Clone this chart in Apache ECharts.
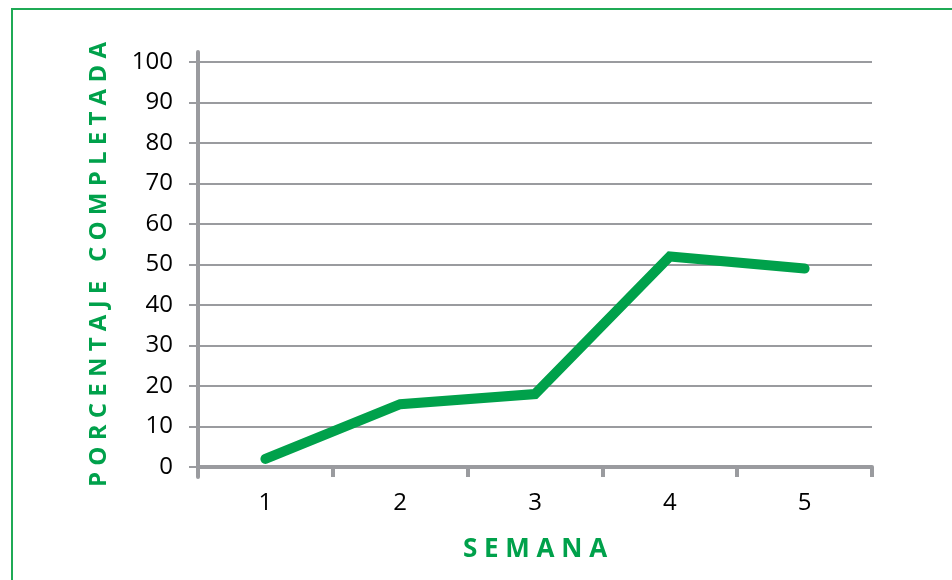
<!DOCTYPE html>
<html>
<head>
<meta charset="utf-8">
<script src="https://cdn.jsdelivr.net/npm/echarts@6/dist/echarts.min.js"></script>
<style>
  html, body { margin: 0; padding: 0; background: #fff; }
  #wrap { position: relative; width: 952px; height: 580px; overflow: hidden; }
  #frame {
    position: absolute; left: 11px; top: 8px; width: 1000px; height: 700px;
    border-left: 2px solid #1faa55; border-top: 2px solid #1faa55;
  }
  #chart { position: absolute; left: 0; top: 0; width: 952px; height: 580px; }
</style>
</head>
<body>
<div id="wrap">
  <div id="frame"></div>
  <div id="chart"></div>
</div>
<script>
const weeks = ['1', '2', '3', '4', '5'];
const percent = [2, 15.5, 18, 52, 49];
const yTicks = [0, 10, 20, 30, 40, 50, 60, 70, 80, 90, 100];

const green = '#00a14b';
const gray = '#9a9b9f';

// letter-spaced titles
const spaced = s => s.split(' ').map(w => w.split('').join(' ')).join('   ');

const myChart = echarts.init(document.getElementById('chart'));
myChart.setOption({
  animation: false,
  textStyle: {fontFamily: 'Open Sans'},
  grid: [
    {left: 198, right: 80, top: 62, bottom: 113},
    // only used to draw the y axis line a bit longer than the plot
    {left: 198, right: 80, top: 52, bottom: 103}
  ],
  xAxis: [
    {
      type: 'category',
      data: weeks,
      gridIndex: 0,
      name: spaced('SEMANA'),
      nameLocation: 'middle',
      nameGap: 70,
      nameTextStyle: {color: green, fontSize: 26, fontWeight: 'bold', fontFamily: 'Open Sans'},
      axisLine: {lineStyle: {color: gray, width: 4}},
      axisTick: {show: true, length: 10, lineStyle: {color: gray, width: 4}},
      axisLabel: {color: '#000', fontSize: 24, margin: 24}
    },
    {type: 'category', gridIndex: 1, data: weeks, show: false}
  ],
  yAxis: [
    {
      type: 'value',
      gridIndex: 0,
      min: yTicks[0],
      max: yTicks[yTicks.length - 1],
      interval: 10,
      name: spaced('PORCENTAJE COMPLETADA'),
      nameLocation: 'middle',
      nameGap: 87,
      nameTextStyle: {color: green, fontSize: 24, fontWeight: 'bold', fontFamily: 'Open Sans'},
      axisLine: {show: false},
      axisTick: {show: true, length: 9, lineStyle: {color: gray, width: 2}},
      axisLabel: {color: '#000', fontSize: 24, margin: 25},
      splitLine: {lineStyle: {color: gray, width: 2}}
    },
    {
      type: 'value',
      gridIndex: 1,
      min: 0,
      max: 1,
      axisLine: {show: true, lineStyle: {color: gray, width: 4}},
      axisTick: {show: false},
      axisLabel: {show: false},
      splitLine: {show: false}
    }
  ],
  series: [
    {
      type: 'line',
      data: percent,
      xAxisIndex: 0,
      yAxisIndex: 0,
      symbol: 'none',
      lineStyle: {color: green, width: 10, cap: 'round', join: 'miter'},
      z: 5
    }
  ]
});
</script>
</body>
</html>
